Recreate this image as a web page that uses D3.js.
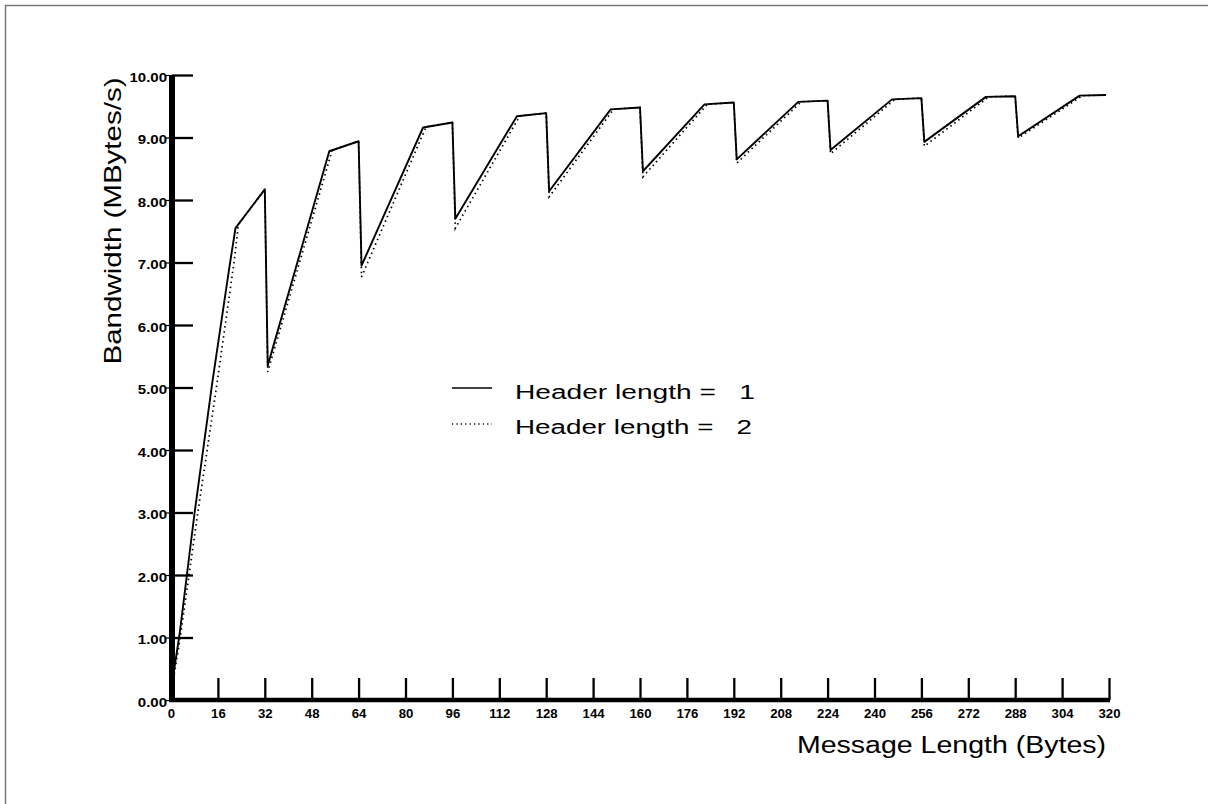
<!DOCTYPE html>
<html>
<head>
<meta charset="utf-8">
<script src="https://cdn.jsdelivr.net/npm/d3@7"></script>
<style>
  html, body { margin: 0; padding: 0; background: #fff; }
  svg { display: block; }
</style>
</head>
<body>
<script>
// ---- data ----
const xTicks = [0,16,32,48,64,80,96,112,128,144,160,176,192,208,224,240,256,272,288,304,320];
const yTicks = [0,1,2,3,4,5,6,7,8,9,10];

// Header length = 1 (solid)
const h1Bytes = [0, 3, 8, 14, 20, 22, 32, 33, 54, 64, 65, 86, 96, 97, 118, 128, 129, 150, 160, 161, 182, 192, 193, 214, 224, 225, 246, 256, 257, 278, 288, 289, 310, 319];
const h1Bw    = [0.15, 1.08, 2.98, 5.05, 6.95, 7.55, 8.17, 5.35, 8.78, 8.94, 6.95, 9.16, 9.24, 7.70, 9.34, 9.39, 8.14, 9.45, 9.48, 8.46, 9.53, 9.56, 8.65, 9.57, 9.59, 8.80, 9.61, 9.63, 8.93, 9.65, 9.66, 9.02, 9.67, 9.68];

// Header length = 2 (dotted)
const h2Bytes = [0, 3, 9, 15.5, 21.5, 23, 32, 33, 55, 64, 65, 87, 96, 97, 119, 128, 129, 151, 160, 161, 183, 192, 193, 215, 224, 225, 247, 256, 257, 279, 288, 289, 311, 319];
const h2Bw    = [0.1, 0.95, 2.95, 5.0, 7.0, 7.61, 8.17, 5.25, 8.80, 8.94, 6.77, 9.17, 9.24, 7.55, 9.345, 9.39, 8.05, 9.453, 9.48, 8.37, 9.533, 9.56, 8.59, 9.572, 9.59, 8.74, 9.612, 9.63, 8.86, 9.651, 9.66, 8.99, 9.671, 9.68];

const legendLabels = ["Header length =   1", "Header length =   2"];

// ---- layout ----
const W = 1208, H = 804;
const x0 = 171, x1 = 1109, yTop = 75, yBot = 700;
const FONT = "'Liberation Sans', Arial, Helvetica, sans-serif";

const svg = d3.select("body").append("svg").attr("width", W).attr("height", H);

// frame (top + left edge)
svg.append("line").attr("x1", 5).attr("y1", 5.5).attr("x2", W).attr("y2", 5.5)
  .attr("stroke", "#777").attr("stroke-width", 1.5);
svg.append("line").attr("x1", 5.5).attr("y1", 5).attr("x2", 5.5).attr("y2", H)
  .attr("stroke", "#777").attr("stroke-width", 1.5);

const x = d3.scaleLinear().domain([0, 320]).range([x0, x1]);
const y = d3.scaleLinear().domain([0, 10]).range([yBot, yTop]);

function stretch(sel, f) {
  sel.each(function () {
    const w = this.getComputedTextLength();
    d3.select(this).attr("textLength", w * f).attr("lengthAdjust", "spacingAndGlyphs");
  });
}

// Y axis
const yAxis = d3.axisLeft(y).tickValues(yTicks).tickFormat(d3.format(".2f")).tickSizeInner(-21).tickSizeOuter(0).tickPadding(5);
const gy = svg.append("g").attr("transform", `translate(${x0 + 1},0)`).call(yAxis);
gy.select(".domain").attr("stroke", "#000").attr("stroke-width", 6).attr("d", `M0,${yTop}V${yBot + 2}`);
gy.selectAll(".tick line").attr("stroke", "#000").attr("stroke-width", 2.3);
gy.selectAll(".tick").append("line").attr("x1", -6).attr("x2", 0).attr("stroke", "#000").attr("stroke-width", 1.2);
gy.selectAll(".tick text").attr("font-family", FONT).attr("dy", "0.52em")
  .attr("font-weight", "bold").attr("font-size", 12).attr("fill", "#000").call(stretch, 1.25);

// X axis
const xAxis = d3.axisBottom(x).tickValues(xTicks).tickFormat(d3.format("d")).tickSizeInner(-22).tickSizeOuter(0).tickPadding(9);
const gx = svg.append("g").attr("transform", `translate(0,${yBot})`).call(xAxis);
gx.select(".domain").attr("stroke", "#000").attr("stroke-width", 4.5).attr("d", `M${x0 - 2},0H${x1 + 1}`);
gx.selectAll(".tick line").attr("stroke", "#000").attr("stroke-width", 2.3);
gx.selectAll(".tick text").attr("font-family", FONT)
  .attr("font-weight", "bold").attr("font-size", 12).attr("fill", "#000").call(stretch, 1.1);

// lines
const line = d3.line().x(d => x(d[0])).y(d => y(d[1]));
const s1 = h1Bytes.map((b, i) => [b, h1Bw[i]]);
const s2 = h2Bytes.map((b, i) => [b, h2Bw[i]]);

svg.append("path").datum(s2).attr("d", line).attr("fill", "none")
  .attr("stroke", "#000").attr("stroke-width", 1.7).attr("stroke-dasharray", "1.5,3.5");
svg.append("path").datum(s1).attr("d", line).attr("fill", "none")
  .attr("stroke", "#000").attr("stroke-width", 1.9).attr("stroke-linejoin", "round");

// legend
const lg = svg.append("g");
const legendStyles = [null, "1.2,3.2"];
const legendLineY = [388, 424];
const legendBase = [399, 434];
const legendLen = [240, 237];
legendLabels.forEach((t, i) => {
  lg.append("line").attr("x1", 452).attr("x2", 492).attr("y1", legendLineY[i]).attr("y2", legendLineY[i])
    .attr("stroke", "#000").attr("stroke-width", i === 0 ? 1.7 : 1.3)
    .attr("stroke-dasharray", legendStyles[i]);
  lg.append("text").attr("x", 515).attr("y", legendBase[i])
    .style("white-space", "pre")
    .attr("font-family", FONT).attr("font-size", 19.5)
    .attr("textLength", legendLen[i]).attr("lengthAdjust", "spacingAndGlyphs")
    .attr("fill", "#000").text(t);
});

// axis titles
svg.append("text").attr("transform", `translate(121,221) rotate(-90)`)
  .attr("text-anchor", "middle")
  .attr("font-family", FONT).attr("font-size", 24)
  .attr("textLength", 287).attr("lengthAdjust", "spacingAndGlyphs")
  .attr("fill", "#000").text("Bandwidth (MBytes/s)");
svg.append("text").attr("x", 1106).attr("y", 753).attr("text-anchor", "end")
  .attr("font-family", FONT).attr("font-size", 23.5)
  .attr("textLength", 309).attr("lengthAdjust", "spacingAndGlyphs")
  .attr("fill", "#000").text("Message Length (Bytes)");
</script>
</body>
</html>
